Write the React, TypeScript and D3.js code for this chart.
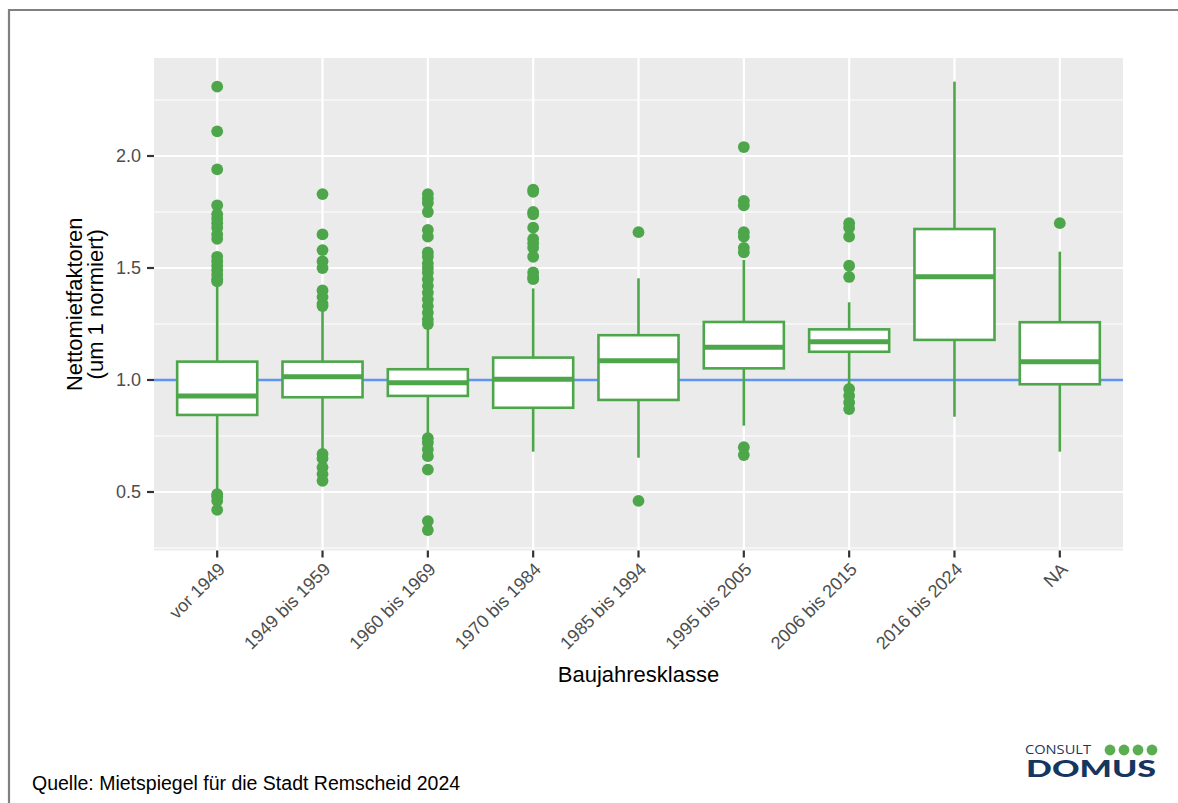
import React from "react";
import * as d3 from "d3";

const categories = [
  "vor 1949",
  "1949 bis 1959",
  "1960 bis 1969",
  "1970 bis 1984",
  "1985 bis 1994",
  "1995 bis 2005",
  "2006 bis 2015",
  "2016 bis 2024",
  "NA",
];

const q1 = [0.844, 0.923, 0.929, 0.876, 0.911, 1.052, 1.126, 1.179, 0.981];
const medians = [0.929, 1.015, 0.988, 1.003, 1.086, 1.146, 1.171, 1.461, 1.082];
const q3 = [1.082, 1.082, 1.048, 1.1, 1.2, 1.259, 1.226, 1.674, 1.258];
const whiskerLow = [0.51, 0.69, 0.754, 0.68, 0.653, 0.796, 0.98, 0.836, 0.68];
const whiskerHigh = [1.42, 1.31, 1.238, 1.409, 1.454, 1.536, 1.347, 2.332, 1.573];

const outliers: number[][] = [
  [2.31, 2.11, 1.94, 1.78, 1.74, 1.72, 1.7, 1.68, 1.65, 1.63, 1.55, 1.53, 1.51, 1.49, 1.47, 1.45, 1.44, 0.49, 0.48, 0.46, 0.42],
  [1.83, 1.65, 1.58, 1.53, 1.5, 1.4, 1.37, 1.34, 1.33, 0.67, 0.65, 0.61, 0.58, 0.55],
  [1.83, 1.81, 1.79, 1.75, 1.67, 1.64, 1.57, 1.55, 1.52, 1.5, 1.48, 1.45, 1.42, 1.39, 1.36, 1.33, 1.3, 1.27, 1.25, 0.74, 0.72, 0.69, 0.66, 0.6, 0.37, 0.33],
  [1.85, 1.84, 1.75, 1.74, 1.68, 1.63, 1.61, 1.59, 1.55, 1.48, 1.46, 1.45],
  [1.66, 0.46],
  [2.04, 1.8, 1.78, 1.66, 1.64, 1.59, 1.57, 0.7, 0.665],
  [1.7, 1.68, 1.64, 1.51, 1.46, 0.96, 0.93, 0.9, 0.87],
  [],
  [1.7],
];

const yMajor = [0.5, 1.0, 1.5, 2.0];
const yMinor = [0.25, 0.75, 1.25, 1.75, 2.25];
const referenceValue = 1.0;

const xTitle = "Baujahresklasse";
const yTitleLines = ["Nettomietfaktoren", "(um 1 normiert)"];
const caption = "Quelle: Mietspiegel für die Stadt Remscheid 2024";

const FONT = "'Liberation Sans', Arial, Helvetica, sans-serif";
const GREEN = "#4DA64A";
const BLUE = "#5E95F0";

export default function App() {
  const W = 1178;
  const H = 803;
  const panel = { left: 154, right: 1123, top: 58, bottom: 550.5 };

  const x = d3
    .scalePoint<string>()
    .domain(categories)
    .range([panel.left, panel.right])
    .padding(0.6);
  const step = x.step();
  const boxW = step * 0.76;

  const y = d3
    .scaleLinear()
    .domain([0.2388, 2.4375])
    .range([panel.bottom, panel.top]);

  return (
    <div style={{ position: "absolute", left: 0, top: 0 }}>
      <svg width={W} height={H} style={{ display: "block", background: "#fff" }}>
        {/* frame */}
        <line x1={8} x2={W} y1={10} y2={10} stroke="#808080" strokeWidth={2.2} />
        <line x1={9} x2={9} y1={9} y2={H} stroke="#808080" strokeWidth={2.2} />

        {/* panel */}
        <rect
          x={panel.left}
          y={panel.top}
          width={panel.right - panel.left}
          height={panel.bottom - panel.top}
          fill="#EBEBEB"
        />
        {yMinor.map((v) => (
          <line key={"mi" + v} x1={panel.left} x2={panel.right} y1={y(v)} y2={y(v)} stroke="#fff" strokeWidth={1.1} />
        ))}
        {yMajor.map((v) => (
          <line key={"ma" + v} x1={panel.left} x2={panel.right} y1={y(v)} y2={y(v)} stroke="#fff" strokeWidth={2.2} />
        ))}
        {categories.map((c) => (
          <line key={"vg" + c} x1={x(c)} x2={x(c)} y1={panel.top} y2={panel.bottom} stroke="#fff" strokeWidth={2.2} />
        ))}

        {/* reference line */}
        <line
          x1={panel.left}
          x2={panel.right}
          y1={y(referenceValue)}
          y2={y(referenceValue)}
          stroke={BLUE}
          strokeWidth={2.5}
        />

        {/* boxplots */}
        {categories.map((c, i) => {
          const cx = x(c) as number;
          return (
            <g key={"b" + c}>
              <line x1={cx} x2={cx} y1={y(q3[i])} y2={y(whiskerHigh[i])} stroke={GREEN} strokeWidth={2.6} />
              <line x1={cx} x2={cx} y1={y(q1[i])} y2={y(whiskerLow[i])} stroke={GREEN} strokeWidth={2.6} />
              <rect
                x={cx - boxW / 2}
                y={y(q3[i])}
                width={boxW}
                height={y(q1[i]) - y(q3[i])}
                fill="#fff"
                stroke={GREEN}
                strokeWidth={2.6}
              />
              <line
                x1={cx - boxW / 2}
                x2={cx + boxW / 2}
                y1={y(medians[i])}
                y2={y(medians[i])}
                stroke={GREEN}
                strokeWidth={5}
              />
              {outliers[i].map((v, j) => (
                <circle key={j} cx={cx} cy={y(v)} r={5.9} fill={GREEN} />
              ))}
            </g>
          );
        })}

        {/* y axis ticks and labels */}
        {yMajor.map((v) => (
          <g key={"yt" + v}>
            <line x1={panel.left - 7} x2={panel.left} y1={y(v)} y2={y(v)} stroke="#333" strokeWidth={2.2} />
            <text
              x={panel.left - 13}
              y={y(v) + 6.4}
              textAnchor="end"
              fontFamily={FONT}
              fontSize={18}
              fill="#4D4D4D"
            >
              {v.toFixed(1)}
            </text>
          </g>
        ))}

        {/* x axis ticks and labels */}
        {categories.map((c) => {
          const cx = x(c) as number;
          return (
            <g key={"xt" + c}>
              <line x1={cx} x2={cx} y1={panel.bottom} y2={panel.bottom + 7} stroke="#333" strokeWidth={2.2} />
              <text
                transform={`translate(${cx + 9},${panel.bottom + 20}) rotate(-45)`}
                textAnchor="end"
                fontFamily={FONT}
                fontSize={18}
                fill="#4D4D4D"
              >
                {c}
              </text>
            </g>
          );
        })}

        {/* axis titles */}
        <text
          x={(panel.left + panel.right) / 2}
          y={682}
          textAnchor="middle"
          fontFamily={FONT}
          fontSize={22}
          fill="#000"
        >
          {xTitle}
        </text>
        {yTitleLines.map((t, k) => (
          <text
            key={"yl" + k}
            transform={`translate(${82 + k * 20.5},${(panel.top + panel.bottom) / 2}) rotate(-90)`}
            textAnchor="middle"
            fontFamily={FONT}
            fontSize={22}
            fill="#000"
          >
            {t}
          </text>
        ))}

        {/* caption */}
        <text x={32} y={790} fontFamily={FONT} fontSize={19.5} fill="#000">
          {caption}
        </text>

        {/* logo */}
        <g>
          <text
            x={1025}
            y={754}
            fontFamily="'Open Sans', 'DejaVu Sans', sans-serif"
            fontSize={13}
            fill="#1A365E"
            textLength={66}
            lengthAdjust="spacingAndGlyphs"
          >
            CONSULT
          </text>
          {[1110, 1124, 1138, 1152].map((dx) => (
            <circle key={dx} cx={dx} cy={750} r={5.4} fill="#5BAD52" />
          ))}
          <text
            x={1026}
            y={777}
            fontFamily="Lato, 'DejaVu Sans', sans-serif"
            fontWeight={900}
            fontSize={23}
            fill="#14365F"
            textLength={130}
            lengthAdjust="spacingAndGlyphs"
          >
            DOMUS
          </text>
        </g>
      </svg>
    </div>
  );
}
